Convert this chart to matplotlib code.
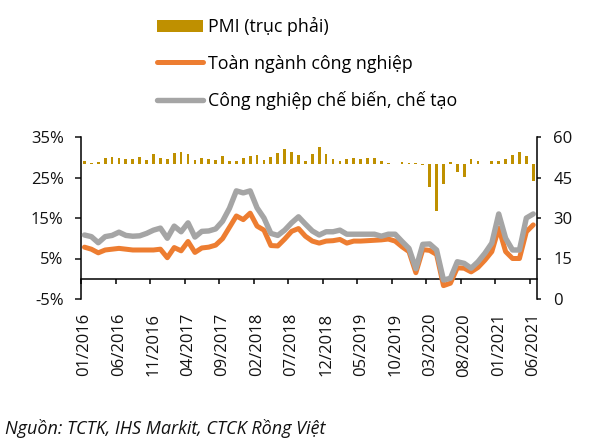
import numpy as np
import matplotlib
matplotlib.use("Agg")
import matplotlib.pyplot as plt

plt.rcParams['font.family'] = ['Open Sans', 'DejaVu Sans']
plt.rcParams['font.size'] = 12

months = [f"{m:02d}/{y}" for y in range(2016, 2022) for m in range(1, 13)][:66]

pmi = [51.2, 50.3, 50.6, 52.1, 52.5, 52.3, 51.9, 52.0, 52.6, 51.4, 53.7, 52.2,
       51.7, 54.2, 54.3, 53.7, 51.5, 52.1, 51.9, 51.5, 53.0, 51.2, 51.1, 52.1,
       53.1, 53.2, 51.4, 52.5, 53.9, 55.4, 54.6, 53.3, 51.2, 53.6, 56.2, 53.6,
       51.7, 51.1, 51.7, 52.2, 51.9, 52.3, 52.3, 51.2, 50.2, 50.0, 50.6, 50.5,
       50.2, 49.8, 41.6, 32.6, 42.5, 50.6, 47.2, 45.3, 51.7, 51.2, 50.0, 51.2,
       51.1, 51.7, 53.5, 54.3, 52.9, 43.8]

toan_nganh = [7.8, 7.3, 6.4, 7.1, 7.3, 7.5, 7.3, 7.1, 7.1, 7.1, 7.1, 7.3,
              5.2, 7.7, 6.9, 9.2, 6.5, 7.6, 7.8, 8.3, 9.9, 12.7, 15.5, 14.6,
              16.2, 13.0, 12.0, 8.2, 8.1, 9.8, 11.7, 12.4, 10.5, 9.3, 8.8, 9.3,
              9.4, 9.7, 8.8, 9.3, 9.3, 9.4, 9.5, 9.6, 9.8, 9.3, 7.9, 6.7,
              1.5, 7.2, 7.0, 6.0, -1.7, -1.1, 2.7, 2.6, 1.7, 2.8, 4.6, 6.7,
              12.5, 6.7, 5.0, 5.0, 11.6, 13.3]

che_bien = [10.8, 10.4, 8.9, 10.4, 10.7, 11.5, 10.7, 10.5, 10.6, 11.2, 12.0, 12.5,
            10.0, 13.0, 11.6, 13.8, 10.3, 11.7, 11.8, 12.3, 14.2, 17.4, 21.7, 21.2,
            21.7, 17.5, 15.0, 11.2, 10.7, 12.0, 13.8, 15.3, 13.5, 11.8, 10.8, 11.6,
            11.6, 12.0, 11.0, 11.0, 11.0, 11.0, 11.0, 10.5, 11.0, 11.0, 9.2, 7.5,
            2.5, 8.5, 8.6, 7.1, -0.3, 0.1, 4.2, 3.8, 2.6, 4.2, 6.3, 8.8,
            16.0, 10.0, 7.1, 7.1, 15.0, 16.0]

left_ticks = [-5, 5, 15, 25, 35]
right_ticks = [0, 15, 30, 45, 60]

C_BAR = '#BF9000'
C_OR = '#ED7D31'
C_GR = '#A5A5A5'
TXT = '#111111'

fig = plt.figure(figsize=(5.99, 4.43), dpi=100)
W, H = 599, 443
ax = fig.add_axes([81 / W, 1 - 299 / H, (536.7 - 81) / W, 162 / H])
ax2 = ax.twinx()

x = np.arange(len(months))
ax.set_xlim(-0.5, len(months) - 0.5)
ax.set_ylim(-5, 35)
ax2.set_ylim(0, 60)

pmi_arr = np.array(pmi)
ax2.bar(x, pmi_arr - 50, bottom=50, width=0.4, color=C_BAR, label='PMI (trục phải)', zorder=2)
l1, = ax.plot(x, toan_nganh, color=C_OR, lw=3.6, solid_joinstyle='round', solid_capstyle='round',
              label='Toàn ngành công nghiệp', zorder=3)
l2, = ax.plot(x, che_bien, color=C_GR, lw=3.9, solid_joinstyle='round', solid_capstyle='round',
              label='Công nghiệp chế biến, chế tạo', zorder=4)

# axes styling
for a in (ax, ax2):
    a.spines['top'].set_visible(False)
    a.spines['bottom'].set_visible(False)
ax.spines['right'].set_visible(False)
ax2.spines['left'].set_visible(False)
ax.spines['left'].set_linewidth(1.1)
ax2.spines['right'].set_linewidth(1.1)

ax.set_yticks(left_ticks)
ax.set_yticklabels([f"{v}%" for v in left_ticks])
ax2.set_yticks(right_ticks)
ax.tick_params(axis='y', direction='out', length=4.5, width=1.1, pad=8, colors=TXT, labelsize=12)
ax2.tick_params(axis='y', direction='out', length=3, width=1.1, pad=9, colors=TXT, labelsize=12)

ax.set_xticks(x[::5])
ax.set_xticklabels([months[i] for i in x[::5]], rotation=90)
ax.tick_params(axis='x', length=0, pad=10, colors=TXT, labelsize=12)

sec = ax.secondary_xaxis(5 / 40)
sec.set_xticks(np.arange(-0.5, len(months) - 0.5, 5))
sec.set_xticklabels([])
sec.tick_params(axis='x', direction='out', length=3.6, width=1.1)
sec.spines['bottom'].set_linewidth(1.1)

handles = [ax2.containers[0], l1, l2]
labels = ['PMI (trục phải)', 'Toàn ngành công nghiệp', 'Công nghiệp chế biến, chế tạo']
fig.legend(handles, labels, loc='upper left', bbox_to_anchor=(157 / W, 1 - 17 / H),
           frameon=False, borderaxespad=0, borderpad=0, handlelength=2.6,
           handletextpad=0.25, labelspacing=1.05, fontsize=12.8)

fig.text(5 / W, 1 - 428 / H, 'Nguồn: TCTK, IHS Markit, CTCK Rồng Việt', style='italic',
         fontsize=13, va='center', ha='left', color=TXT)

fig.savefig('out.png', dpi=100)
